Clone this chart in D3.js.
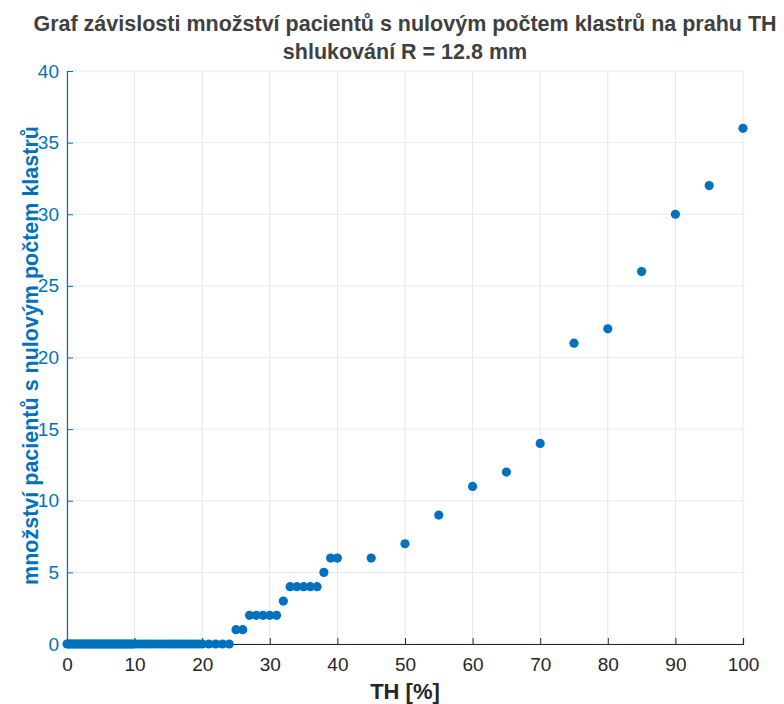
<!DOCTYPE html>
<html>
<head>
<meta charset="utf-8">
<script src="https://cdn.jsdelivr.net/npm/d3@7"></script>
<style>
  html, body { margin: 0; padding: 0; background: #fff; }
  svg { display: block; font-family: "Liberation Sans", Arial, Helvetica, sans-serif; }
</style>
</head>
<body>
<div id="chart"></div>
<script>
// TH values [%] where no patient had zero clusters (y = 0)
const zeroTH = [
  0, 0.25, 0.5, 0.75, 1, 1.25, 1.5, 1.75, 2, 2.25, 2.5, 2.75, 3, 3.25, 3.5, 3.75,
  4, 4.25, 4.5, 4.75, 5, 5.25, 5.5, 5.75, 6, 6.25, 6.5, 6.75, 7, 7.25, 7.5, 7.75,
  8, 8.25, 8.5, 8.75, 9, 9.25, 9.5, 9.75, 10,
  10.5, 11, 11.5, 12, 12.5, 13, 13.5, 14, 14.5, 15, 15.5, 16, 16.5, 17, 17.5,
  18, 18.5, 19, 19.5, 20, 21, 22, 23, 24
];
// remaining points
const thValues = [25, 26, 27, 28, 29, 30, 31, 32, 33, 34, 35, 36, 37, 38, 39, 40,
  45, 50, 55, 60, 65, 70, 75, 80, 85, 90, 95, 100];
const patientCounts = [1, 1, 2, 2, 2, 2, 2, 3, 4, 4, 4, 4, 4, 5, 6, 6,
  6, 7, 9, 11, 12, 14, 21, 22, 26, 30, 32, 36];

const xTicks = [0, 10, 20, 30, 40, 50, 60, 70, 80, 90, 100];
const yTicks = [0, 5, 10, 15, 20, 25, 30, 35, 40];

const titleLines = [
  'Graf závislosti množství pacientů s nulovým počtem klastrů na prahu TH',
  'shlukování R = 12.8 mm'
];
const xLabel = 'TH [%]';
const yLabel = 'množství pacientů s nulovým počtem klastrů';

const data = zeroTH.map(t => ({ x: t, y: 0 }))
  .concat(thValues.map((t, i) => ({ x: t, y: patientCounts[i] })));

const W = 784, H = 704;
const margin = { top: 71, right: 41, bottom: 60, left: 67 };
const width = W - margin.left - margin.right;
const height = H - margin.top - margin.bottom;

const blue = '#0072BD';
const dark = '#262626';

const svg = d3.select('#chart').append('svg')
  .attr('width', W).attr('height', H);

const g = svg.append('g')
  .attr('transform', `translate(${margin.left},${margin.top})`);

const x = d3.scaleLinear().domain([0, 100]).range([0, width]);
const y = d3.scaleLinear().domain([0, 40]).range([height, 0]);

// Grid
g.append('g')
  .selectAll('line').data(xTicks).join('line')
  .attr('x1', d => x(d)).attr('x2', d => x(d))
  .attr('y1', 0).attr('y2', height)
  .attr('stroke', '#e6e6e6').attr('stroke-width', 1);

g.append('g')
  .selectAll('line').data(yTicks).join('line')
  .attr('x1', 0).attr('x2', width)
  .attr('y1', d => y(d)).attr('y2', d => y(d))
  .attr('stroke', '#dfecf6').attr('stroke-width', 1);

// Axes
g.append('g')
  .attr('transform', `translate(0,${height})`)
  .call(d3.axisBottom(x).tickValues(xTicks).tickSize(-6).tickPadding(14))
  .call(a => a.select('.domain').attr('stroke', dark).attr('stroke-width', 1.2))
  .call(a => a.selectAll('line').attr('stroke', dark))
  .call(a => a.selectAll('text').attr('fill', dark).attr('font-size', '19px'));

g.append('g')
  .call(d3.axisLeft(y).tickValues(yTicks).tickSize(-6).tickPadding(8))
  .call(a => a.select('.domain').attr('stroke', blue).attr('stroke-width', 1.2))
  .call(a => a.selectAll('line').attr('stroke', blue))
  .call(a => a.selectAll('text').attr('fill', blue).attr('font-size', '19px'));

// Points
g.append('g')
  .selectAll('circle').data(data).join('circle')
  .attr('cx', d => x(d.x)).attr('cy', d => y(d.y))
  .attr('r', 4.6)
  .attr('fill', blue);

// Labels
svg.append('text')
  .attr('x', margin.left + width / 2).attr('y', 699)
  .attr('text-anchor', 'middle')
  .attr('font-size', '22px').attr('font-weight', 'bold').attr('fill', dark)
  .text(xLabel);

svg.append('text')
  .attr('transform', `translate(38,${margin.top + height / 2 - 2}) rotate(-90)`)
  .attr('text-anchor', 'middle')
  .attr('font-size', '21.5px').attr('font-weight', 'bold').attr('fill', blue)
  .text(yLabel);

svg.append('g').selectAll('text').data(titleLines).join('text')
  .attr('x', margin.left + width / 2)
  .attr('y', (d, i) => 31 + i * 28)
  .attr('text-anchor', 'middle')
  .attr('font-size', '21.5px').attr('font-weight', 'bold').attr('fill', '#404040')
  .text(d => d);
</script>
</body>
</html>
